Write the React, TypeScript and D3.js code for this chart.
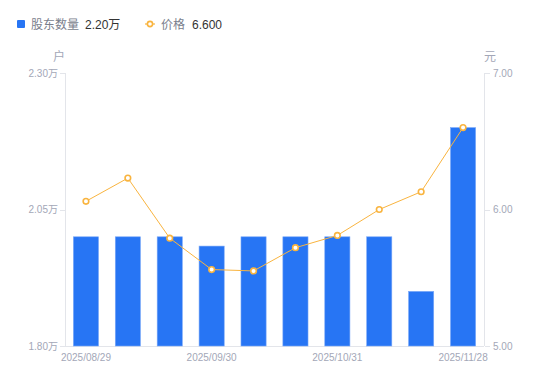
import React from "react";
import * as d3 from "d3";

const dates = ["2025/08/29", "2025/09/10", "2025/09/19", "2025/09/30", "2025/10/10", "2025/10/20", "2025/10/31", "2025/11/10", "2025/11/20", "2025/11/28"];
const holders = [2.0, 2.0, 2.0, 1.983, 2.0, 2.0, 2.0, 2.0, 1.9, 2.2];
const prices = [6.06, 6.23, 5.79, 5.56, 5.55, 5.72, 5.81, 6.0, 6.13, 6.6];
const leftTicks = [1.8, 2.05, 2.3];
const rightTicks = [5, 6, 7];
const shownDates = ["2025/08/29", "2025/09/30", "2025/10/31", "2025/11/28"];

const W = 550, H = 381;
const M = { left: 65, right: 484, top: 73, bottom: 346 };
const FONT = "'Liberation Sans', Arial, 'Noto Sans CJK SC', sans-serif";
const AXIS_TEXT = "#a3a7b7";
const AXIS_LINE = "#e3e5ea";
const BAR = "#2775f4";
const LINE = "#f9b43f";

export default function App() {
  const x = d3.scaleBand<string>().domain(dates).range([M.left, M.right]).paddingInner(0.4).paddingOuter(0.2);
  const xc = (d: string) => (x(d) as number) + x.bandwidth() / 2;
  const yL = d3.scaleLinear().domain([1.8, 2.3]).range([M.bottom, M.top]);
  const yR = d3.scaleLinear().domain([5, 7]).range([M.bottom, M.top]);
  const line = d3.line<number>().x((_, i) => xc(dates[i])).y((v) => yR(v));

  return (
    <svg width={W} height={H} style={{ position: "absolute", left: 0, top: 0, fontFamily: FONT }}>
      {/* legend */}
      <rect x={17} y={20} width={8} height={8} rx={1} fill={BAR} />
      <text x={31} y={28.5} fontSize={12} fill="#7a7e8c">股东数量</text>
      <text x={85} y={28.5} fontSize={12} fill="#333">{holders[holders.length - 1].toFixed(2) + "万"}</text>
      <line x1={145} x2={155} y1={24} y2={24} stroke={LINE} strokeWidth={1.2} />
      <circle cx={150} cy={24} r={2.6} fill="#fff" stroke={LINE} strokeWidth={1.6} />
      <text x={161} y={28.5} fontSize={12} fill="#7a7e8c">价格</text>
      <text x={192} y={28.5} fontSize={12} fill="#333">{prices[prices.length - 1].toFixed(3)}</text>

      {/* units */}
      <text x={59} y={61} fontSize={12} fill={AXIS_TEXT} textAnchor="middle">户</text>
      <text x={490} y={61} fontSize={12} fill={AXIS_TEXT} textAnchor="middle">元</text>

      {/* axes */}
      <line x1={M.left + 0.5} x2={M.left + 0.5} y1={M.top} y2={M.bottom} stroke={AXIS_LINE} />
      <line x1={M.right + 0.5} x2={M.right + 0.5} y1={M.top} y2={M.bottom} stroke={AXIS_LINE} />
      <line x1={M.left} x2={M.right} y1={M.bottom + 0.5} y2={M.bottom + 0.5} stroke={AXIS_LINE} />
      {leftTicks.map((t) => (
        <g key={"l" + t}>
          <line x1={M.left - 5} x2={M.left} y1={Math.round(yL(t)) + 0.5} y2={Math.round(yL(t)) + 0.5} stroke={AXIS_LINE} />
          <text x={M.left - 7} y={yL(t) + 3.5} fontSize={10} fill={AXIS_TEXT} textAnchor="end">{t.toFixed(2) + "万"}</text>
        </g>
      ))}
      {rightTicks.map((t) => (
        <g key={"r" + t}>
          <line x1={M.right + 1} x2={M.right + 6} y1={Math.round(yR(t)) + 0.5} y2={Math.round(yR(t)) + 0.5} stroke={AXIS_LINE} />
          <text x={M.right + 9} y={yR(t) + 3.5} fontSize={10} fill={AXIS_TEXT}>{t.toFixed(2)}</text>
        </g>
      ))}
      {shownDates.map((d) => (
        <text key={d} x={xc(d)} y={361} fontSize={10} fill={AXIS_TEXT} textAnchor="middle">{d}</text>
      ))}

      {/* bars */}
      {holders.map((v, i) => (
        <rect key={i} x={x(dates[i])} y={yL(v)} width={x.bandwidth()} height={M.bottom - yL(v)} fill={BAR} stroke="#7aa8f8" strokeWidth={0.6} />
      ))}

      {/* price line */}
      <path d={line(prices) || ""} fill="none" stroke={LINE} strokeWidth={1} />
      {prices.map((v, i) => (
        <circle key={i} cx={xc(dates[i])} cy={yR(v)} r={2.8} fill="#fff" stroke={LINE} strokeWidth={1.6} />
      ))}
    </svg>
  );
}
